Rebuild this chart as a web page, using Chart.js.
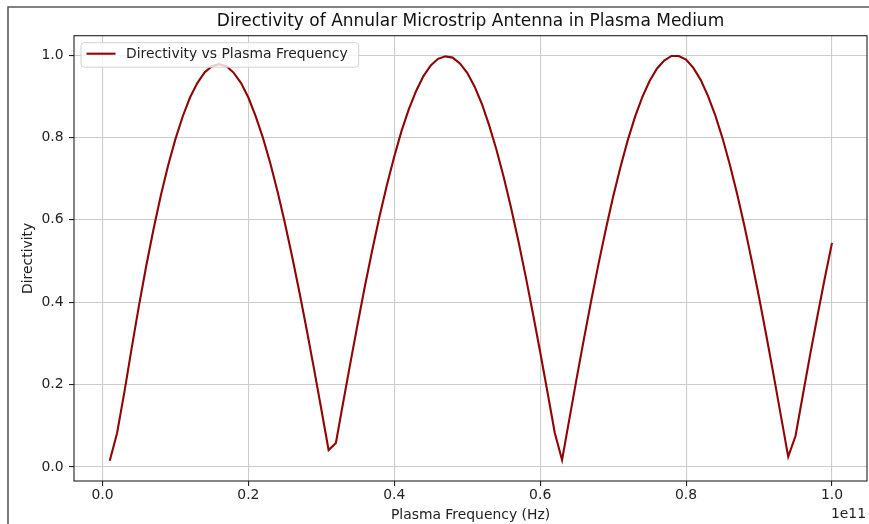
<!DOCTYPE html>
<html>
<head>
<meta charset="utf-8">
<title>Directivity of Annular Microstrip Antenna in Plasma Medium</title>
<script src="https://cdn.jsdelivr.net/npm/chart.js@4.4.1/dist/chart.umd.min.js"></script>
<style>
  html, body { margin: 0; padding: 0; background: #ffffff; }
  #wrap { width: 869px; height: 524px; }
</style>
</head>
<body>
<div id="wrap"><canvas id="directivityChart" width="869" height="524"></canvas></div>
<script>
// plasma frequency in GHz (axis shows it in units of 1e11 Hz)
const freqGHz = [
  1, 2, 3, 4, 5, 6, 7, 8, 9, 10,
  11, 12, 13, 14, 15, 16, 17, 18, 19, 20,
  21, 22, 23, 24, 25, 26, 27, 28, 29, 30,
  31, 32, 33, 34, 35, 36, 37, 38, 39, 40,
  41, 42, 43, 44, 45, 46, 47, 48, 49, 50,
  51, 52, 53, 54, 55, 56, 57, 58, 59, 60,
  61, 62, 63, 64, 65, 66, 67, 68, 69, 70,
  71, 72, 73, 74, 75, 76, 77, 78, 79, 80,
  81, 82, 83, 84, 85, 86, 87, 88, 89, 90,
  91, 92, 93, 94, 95, 96, 97, 98, 99, 100
];

// directivity
const directivity = [
  0.015, 0.082, 0.181, 0.288, 0.391, 0.488, 0.577, 0.659, 0.732, 0.796,
  0.851, 0.897, 0.932, 0.958, 0.973, 0.978, 0.973, 0.957, 0.932, 0.897,
  0.852, 0.799, 0.738, 0.669, 0.593, 0.511, 0.424, 0.333, 0.238, 0.140,
  0.041, 0.058, 0.157, 0.254, 0.349, 0.441, 0.528, 0.610, 0.685, 0.754,
  0.816, 0.869, 0.913, 0.949, 0.975, 0.991, 0.997, 0.994, 0.980, 0.957,
  0.924, 0.882, 0.830, 0.771, 0.704, 0.630, 0.550, 0.464, 0.373, 0.279,
  0.182, 0.083, 0.017, 0.116, 0.215, 0.311, 0.404, 0.493, 0.577, 0.656,
  0.728, 0.793, 0.850, 0.898, 0.937, 0.967, 0.987, 0.998, 0.998, 0.989,
  0.969, 0.940, 0.901, 0.854, 0.798, 0.734, 0.663, 0.585, 0.501, 0.412,
  0.319, 0.223, 0.124, 0.025, 0.075, 0.174, 0.272, 0.366, 0.457, 0.544
];

const xTicks = [0, 20, 40, 60, 80, 100];
const xTickLabels = ['0.0', '0.2', '0.4', '0.6', '0.8', '1.0'];
const yTicks = [0, 0.2, 0.4, 0.6, 0.8, 1.0];
const yTickLabels = ['0.0', '0.2', '0.4', '0.6', '0.8', '1.0'];

const FONT = '"DejaVu Sans", "Liberation Sans", sans-serif';
Chart.defaults.font.family = FONT;
Chart.defaults.color = '#222222';

// axes box (spines) drawn over the line, like matplotlib
const spines = {
  id: 'spines',
  afterDatasetsDraw(chart) {
    const { ctx, chartArea: a } = chart;
    ctx.save();
    ctx.strokeStyle = '#222222';
    ctx.lineWidth = 1.1;
    ctx.strokeRect(a.left, a.top, a.right - a.left, a.bottom - a.top);
    ctx.restore();
  }
};

// legend box in the upper left corner + offset label + outer frame
const extras = {
  id: 'extras',
  afterDraw(chart) {
    const { ctx, chartArea: a } = chart;
    const ds = chart.data.datasets[0];
    ctx.save();

    // legend
    ctx.font = '13.9px ' + FONT;
    const textW = ctx.measureText(ds.label).width;
    const lx = a.left + 7, ly = a.top + 7;
    const lw = 45 + textW + 11, lh = 24.5;
    ctx.beginPath();
    ctx.roundRect(lx, ly, lw, lh, 3);
    ctx.fillStyle = 'rgba(255,255,255,0.8)';
    ctx.fill();
    ctx.strokeStyle = 'rgba(204,204,204,0.9)';
    ctx.lineWidth = 1;
    ctx.stroke();
    ctx.beginPath();
    ctx.moveTo(lx + 5.5, ly + 11);
    ctx.lineTo(lx + 34.5, ly + 11);
    ctx.strokeStyle = ds.borderColor;
    ctx.lineWidth = ds.borderWidth;
    ctx.stroke();
    ctx.fillStyle = '#222222';
    ctx.textBaseline = 'middle';
    ctx.textAlign = 'left';
    ctx.fillText(ds.label, lx + 45, ly + 11.5);

    // scale offset text
    ctx.textAlign = 'right';
    ctx.fillText('1e11', a.right - 1, 514.5);

    // frame of the screenshot
    ctx.beginPath();
    ctx.moveTo(8, 524);
    ctx.lineTo(8, 7);
    ctx.lineTo(869, 7);
    ctx.strokeStyle = '#5a5a5a';
    ctx.lineWidth = 1.6;
    ctx.stroke();
    ctx.restore();
  }
};

const ctx = document.getElementById('directivityChart').getContext('2d');

const directivityChart = new Chart(ctx, {
  type: 'line',
  data: {
    datasets: [{
      label: 'Directivity vs Plasma Frequency',
      data: freqGHz.map((f, i) => ({ x: f, y: directivity[i] })),
      borderColor: '#8f0505',
      backgroundColor: '#8f0505',
      borderWidth: 2.1,
      pointRadius: 0,
      tension: 0,
      fill: false
    }]
  },
  options: {
    responsive: false,
    animation: false,
    devicePixelRatio: 1,
    layout: { padding: { left: 0, right: 2, top: 0, bottom: 0 } },
    plugins: {
      legend: { display: false },
      tooltip: { enabled: false },
      title: {
        display: true,
        fullSize: false,
        text: 'Directivity of Annular Microstrip Antenna in Plasma Medium',
        color: '#111111',
        font: { size: 17, weight: 'normal' },
        padding: { top: 11.8, bottom: 3.5 }
      }
    },
    scales: {
      x: {
        type: 'linear',
        min: -3.9,
        max: 104.8,
        afterBuildTicks: (s) => { s.ticks = xTicks.map(v => ({ value: v })); },
        afterFit: (s) => { s.height = 43; },
        ticks: {
          autoSkip: false,
          maxRotation: 0,
          padding: 1.2,
          font: { size: 13.9 },
          callback: (v) => xTickLabels[xTicks.indexOf(v)]
        },
        grid: {
          color: '#cccccc',
          lineWidth: 1.1,
          tickLength: 5,
          tickColor: '#222222',
          tickWidth: 1.1
        },
        border: { display: false },
        title: {
          display: true,
          text: 'Plasma Frequency (Hz)',
          font: { size: 13.9 },
          padding: { top: 0, bottom: 0.7 }
        }
      },
      y: {
        min: -0.0342,
        max: 1.0472,
        afterBuildTicks: (s) => { s.ticks = yTicks.map(v => ({ value: v })); },
        afterFit: (s) => { s.width = 74; },
        ticks: {
          padding: 5.5,
          font: { size: 13.9 },
          callback: (v) => yTickLabels[yTicks.indexOf(v)]
        },
        grid: {
          color: '#cccccc',
          lineWidth: 1.1,
          tickLength: 5,
          tickColor: '#222222',
          tickWidth: 1.1
        },
        border: { display: false },
        title: {
          display: true,
          text: 'Directivity',
          font: { size: 13.9 },
          padding: { top: 19.7, bottom: 0 }
        }
      }
    }
  },
  plugins: [spines, extras]
});
</script>
</body>
</html>
